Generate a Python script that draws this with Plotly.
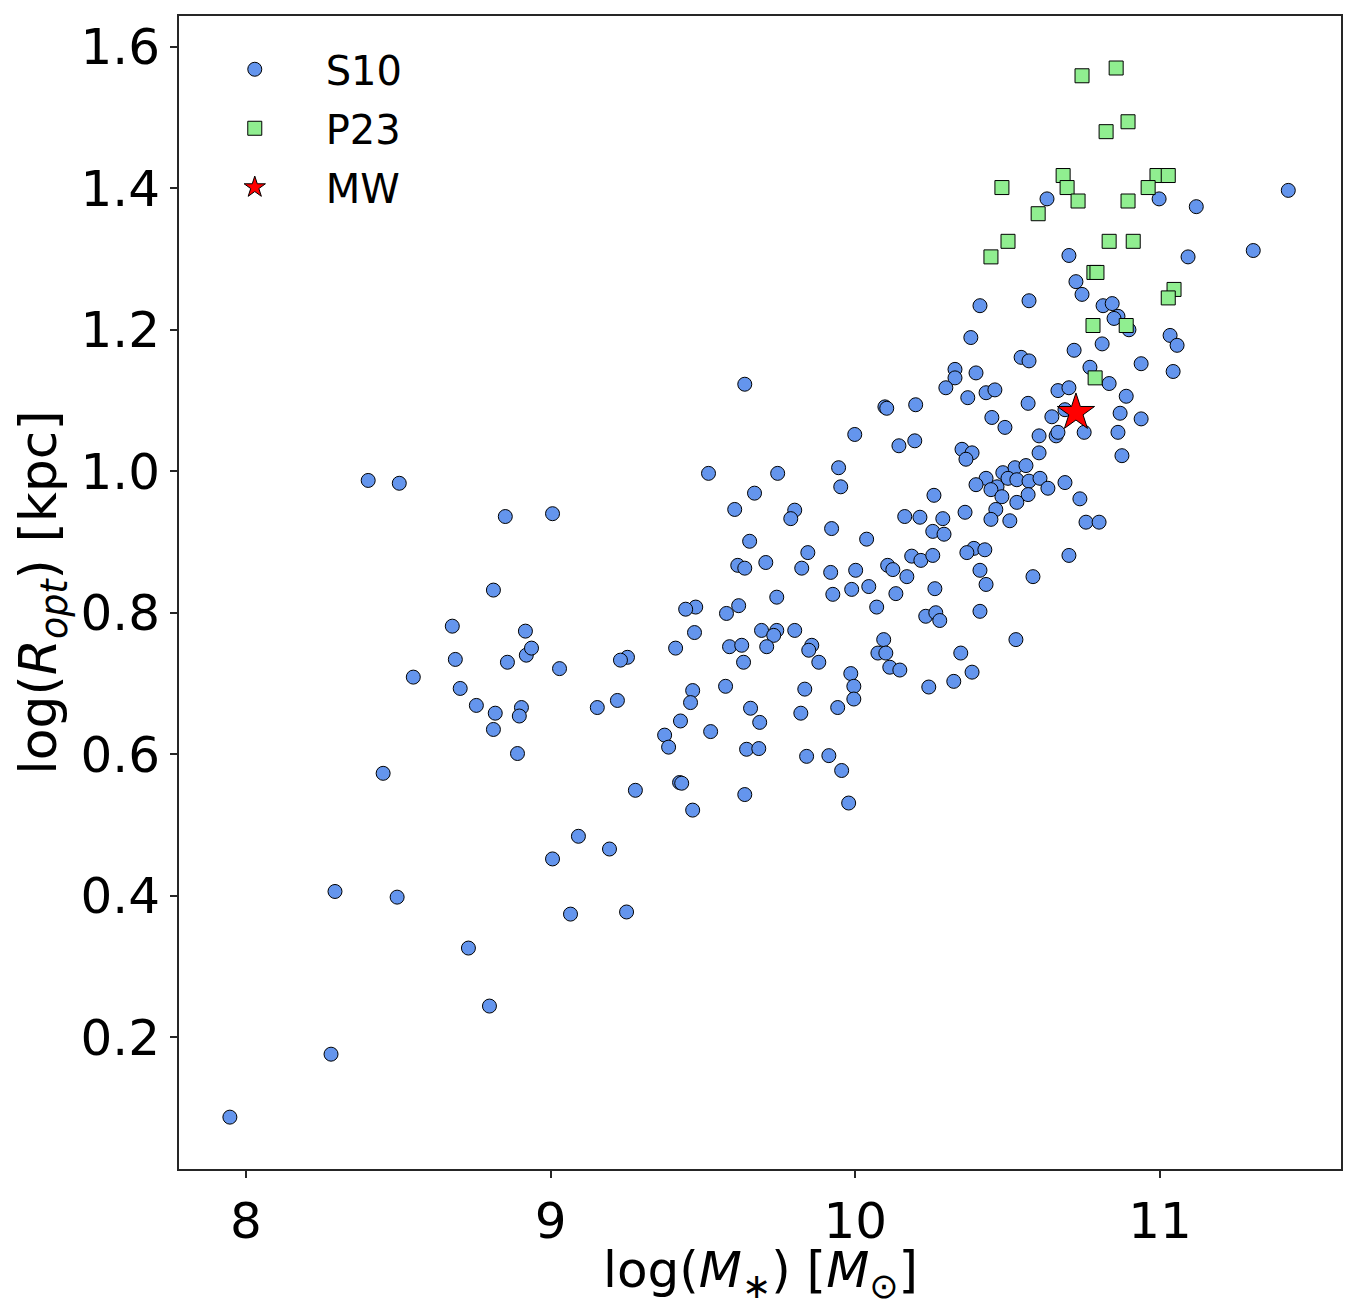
import plotly.graph_objects as go

# S10 sample: log stellar mass and log optical radius
s10_logm = [
    7.947, 8.279, 8.292, 8.401, 8.503, 8.450, 8.496, 8.549, 8.677, 8.687,
    8.703, 8.756, 8.730, 8.799, 8.812, 8.818, 8.812, 8.851, 8.858, 8.891,
    8.904, 8.897, 8.917, 8.920, 8.937, 9.006, 9.006, 9.029, 9.065, 9.091,
    9.193, 9.249, 9.518, 9.745, 9.669, 9.604, 9.801, 9.788, 9.653, 9.844,
    9.614, 9.637, 9.706, 9.824, 9.742, 9.476, 9.443, 9.617, 9.577, 9.472,
    9.692, 9.742, 9.732, 9.801, 9.410, 9.587, 9.627, 9.709, 9.857, 9.847,
    9.633, 9.880, 9.252, 9.229, 9.574, 9.834, 9.466, 9.459, 9.219, 9.153,
    9.656, 9.821, 9.686, 9.426, 9.525, 9.374, 9.387, 9.643, 9.683, 9.840,
    9.278, 9.423, 9.430, 9.637, 9.466, 9.637, 9.998, 10.097, 10.103, 9.945,
    9.952, 10.143, 10.195, 10.350, 10.383, 10.363, 10.603, 10.484, 10.524, 10.560,
    10.429, 10.396, 10.465, 10.445, 10.501, 10.530, 10.570, 10.606, 10.632, 10.688,
    10.481, 10.567, 10.530, 10.737, 10.258, 10.360, 10.461, 10.445, 10.507, 10.757,
    10.800, 9.922, 10.037, 10.162, 10.212, 10.287, 10.254, 10.291, 10.185, 10.215,
    10.254, 10.389, 10.366, 10.425, 10.701, 9.919, 10.001, 10.106, 10.123, 10.169,
    10.409, 9.926, 9.988, 10.044, 10.133, 10.261, 10.429, 10.583, 10.070, 10.231,
    10.264, 10.277, 10.409, 10.093, 10.074, 10.100, 10.113, 10.146, 10.346, 10.527,
    9.985, 9.995, 9.995, 9.942, 10.241, 10.323, 10.383, 9.913, 9.955, 9.978,
    11.421, 10.629, 10.997, 11.119, 10.701, 11.092, 11.306, 10.724, 10.744, 10.409,
    10.570, 10.813, 10.843, 10.862, 10.849, 10.898, 10.379, 11.033, 11.056, 10.810,
    10.718, 10.544, 10.570, 10.938, 11.043, 10.327, 10.327, 10.396, 10.770, 10.833,
    10.297, 10.369, 10.429, 10.458, 10.665, 10.701, 10.889, 10.198, 10.567, 10.645,
    10.688, 10.869, 10.938, 10.448, 10.491, 10.603, 10.659, 10.665, 10.751, 10.862,
    10.875,
]
s10_logr = [
    0.087, 0.176, 0.406, 0.987, 0.983, 0.573, 0.398, 0.709, 0.781, 0.734,
    0.693, 0.669, 0.326, 0.244, 0.832, 0.658, 0.635, 0.936, 0.730, 0.601,
    0.666, 0.654, 0.774, 0.740, 0.750, 0.940, 0.452, 0.721, 0.374, 0.484,
    0.466, 0.377, 0.997, 0.997, 0.969, 0.946, 0.945, 0.933, 0.901, 0.885,
    0.867, 0.863, 0.871, 0.863, 0.822, 0.808, 0.805, 0.810, 0.799, 0.772,
    0.775, 0.775, 0.768, 0.775, 0.750, 0.752, 0.754, 0.752, 0.754, 0.747,
    0.730, 0.730, 0.737, 0.733, 0.696, 0.692, 0.690, 0.673, 0.676, 0.666,
    0.665, 0.658, 0.645, 0.647, 0.632, 0.627, 0.610, 0.607, 0.608, 0.597,
    0.549, 0.560, 0.559, 0.543, 0.521, 1.123, 1.052, 1.091, 1.089, 1.005,
    0.978, 1.036, 1.043, 1.031, 1.026, 1.017, 1.026, 0.998, 1.005, 1.008,
    0.990, 0.981, 0.978, 0.974, 0.990, 0.988, 0.986, 0.990, 0.976, 0.984,
    0.964, 0.967, 0.956, 0.961, 0.966, 0.942, 0.946, 0.932, 0.930, 0.928,
    0.928, 0.919, 0.904, 0.936, 0.935, 0.933, 0.915, 0.911, 0.880, 0.874,
    0.881, 0.891, 0.885, 0.889, 0.881, 0.857, 0.860, 0.867, 0.861, 0.851,
    0.860, 0.826, 0.833, 0.837, 0.827, 0.834, 0.840, 0.851, 0.808, 0.795,
    0.800, 0.789, 0.802, 0.762, 0.743, 0.743, 0.723, 0.719, 0.743, 0.762,
    0.714, 0.696, 0.678, 0.666, 0.695, 0.703, 0.716, 0.598, 0.577, 0.531,
    1.397, 1.385, 1.385, 1.374, 1.305, 1.303, 1.312, 1.268, 1.250, 1.234,
    1.241, 1.234, 1.237, 1.219, 1.216, 1.200, 1.189, 1.192, 1.178, 1.180,
    1.171, 1.161, 1.156, 1.152, 1.141, 1.144, 1.132, 1.139, 1.147, 1.124,
    1.118, 1.104, 1.111, 1.115, 1.114, 1.118, 1.106, 1.094, 1.096, 1.077,
    1.087, 1.082, 1.074, 1.076, 1.062, 1.050, 1.050, 1.055, 1.055, 1.055,
    1.022,
]

# P23 sample
p23_logm = [
    10.744, 10.856, 10.895, 10.823, 10.682, 10.481, 10.695, 10.731, 10.600, 10.895,
    10.990, 11.027, 10.961, 10.501, 10.445, 10.833, 10.912, 10.783, 10.793, 11.046,
    11.027, 10.780, 10.889, 10.787,
]
p23_logr = [
    1.559, 1.570, 1.494, 1.480, 1.418, 1.401, 1.401, 1.382, 1.364, 1.382,
    1.418, 1.418, 1.401, 1.325, 1.303, 1.325, 1.325, 1.281, 1.281, 1.257,
    1.245, 1.206, 1.206, 1.132,
]

# Milky Way
mw_logm = [10.724]
mw_logr = [1.083]

x_ticks = [8, 9, 10, 11]
y_ticks = [0.2, 0.4, 0.6, 0.8, 1.0, 1.2, 1.4, 1.6]

FONT = "DejaVu Sans"
PAD = "\u00a0" * 4  # pushes legend text away from its marker

fig = go.Figure()
fig.add_trace(go.Scatter(
    x=s10_logm, y=s10_logr, mode="markers", name=PAD + "S10", legendgroup="s10",
    marker=dict(symbol="circle", size=14, color="#6495ED",
                line=dict(color="black", width=1)),
))
fig.add_trace(go.Scatter(
    x=p23_logm, y=p23_logr, mode="markers", name=PAD + "P23", legendgroup="p23",
    marker=dict(symbol="square", size=14, color="#90EE90",
                line=dict(color="black", width=1)),
))
fig.add_trace(go.Scatter(
    x=mw_logm, y=mw_logr, mode="markers", name=PAD + "MW", legendgroup="mw",
    marker=dict(symbol="star", size=28, color="red",
                line=dict(color="black", width=1)),
))

axis_common = dict(
    showline=True, linecolor="#262626", linewidth=2, mirror=True,
    ticks="outside", ticklen=7, tickwidth=2, tickcolor="#262626",
    showgrid=False, zeroline=False,
    tickfont=dict(family=FONT, size=50, color="black"),
)

fig.update_xaxes(range=[7.78, 11.594], tickvals=x_ticks, **axis_common)
fig.update_yaxes(
    range=[0.0137, 1.6435], tickvals=y_ticks, tickformat=".1f",
    title=dict(text="log(<i>R</i><sub><i>opt</i></sub>) [kpc]",
               font=dict(family=FONT, size=52, color="black"), standoff=14),
    **axis_common,
)

# x title as an annotation so it can sit a little closer to the tick labels
fig.add_annotation(
    text="log(<i>M</i><sub>∗</sub>) [<i>M</i><sub>⊙</sub>]",
    xref="paper", yref="paper", x=0.5, y=-0.0905,
    xanchor="center", yanchor="middle", showarrow=False,
    font=dict(family=FONT, size=50, color="black"),
)

# page body adds an 8px offset, so the figure is drawn 8px smaller
fig.update_layout(
    width=1348, height=1303,
    margin=dict(l=171, r=15, t=6, b=142),
    plot_bgcolor="white", paper_bgcolor="white",
    font=dict(family=FONT, color="black"),
    legend=dict(
        x=0.048, y=0.982, xanchor="left", yanchor="top",
        bgcolor="rgba(0,0,0,0)", tracegroupgap=4,
        font=dict(family=FONT, size=40, color="black"),
    ),
)

fig.write_html("out.html")
